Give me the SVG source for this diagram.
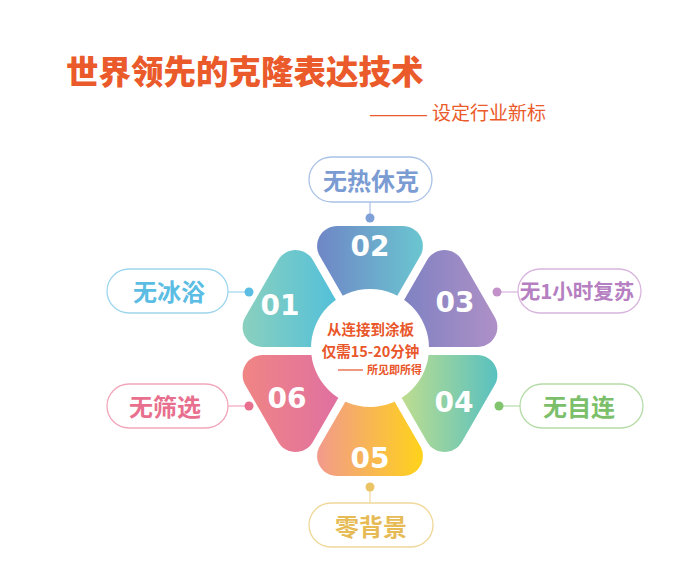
<svg xmlns="http://www.w3.org/2000/svg" width="700" height="564" viewBox="0 0 700 564">
<style>
.cjk{font-family:"Noto Sans CJK SC","Noto Sans",sans-serif}
.title{font-size:32.5px;font-weight:900;fill:#ea5a2a}
.sub{font-size:19px;font-weight:400;fill:#ea5a2a}
.ctr{font-size:14.5px;font-weight:700;fill:#e8562a;text-anchor:middle}
.num{font-family:"DejaVu Sans",sans-serif;font-weight:700;font-size:28px;fill:#fff;text-anchor:middle}
.pill{fill:#fff;stroke-width:1.3}
.lbl{font-size:24px;font-weight:700;text-anchor:middle}
.small{font-size:20.5px}
.conn{stroke-width:1.2;fill:none}
</style>
<defs>
<linearGradient id="g1" x1="0" y1="0" x2="1" y2="0"><stop offset="0" stop-color="#8ad0be"/><stop offset="1" stop-color="#4cbedd"/></linearGradient>
<linearGradient id="g2" x1="0" y1="0" x2="1" y2="0"><stop offset="0" stop-color="#6f86c6"/><stop offset="1" stop-color="#6ac6d0"/></linearGradient>
<linearGradient id="g3" x1="0" y1="0" x2="1" y2="0"><stop offset="0" stop-color="#7a80c2"/><stop offset="1" stop-color="#ae90c6"/></linearGradient>
<linearGradient id="g4" x1="0" y1="0" x2="1" y2="0"><stop offset="0" stop-color="#c8e08a"/><stop offset="1" stop-color="#58c1c0"/></linearGradient>
<linearGradient id="g5" x1="0" y1="0" x2="1" y2="0"><stop offset="0" stop-color="#f29a8c"/><stop offset="1" stop-color="#fed31a"/></linearGradient>
<linearGradient id="g6" x1="0" y1="0" x2="1" y2="0"><stop offset="0" stop-color="#f08584"/><stop offset="1" stop-color="#de6ea4"/></linearGradient>
</defs>
<rect width="700" height="564" fill="#fff"/>

<g id="title">
<text class="cjk title" x="66" y="84">世界领先的克隆表达技术</text>
<text class="cjk sub" x="370" y="120"><tspan font-family="Liberation Sans,sans-serif">———</tspan><tspan x="432">设定行业新标</tspan></text>
</g>

<g id="connectors">
<line class="conn" stroke="#a9c2e6" x1="370" y1="202" x2="370" y2="218"/>
<circle cx="370" cy="218" r="4.5" fill="#7ea0d6"/>
<line class="conn" stroke="#9fd6ee" x1="228" y1="292" x2="249" y2="292"/>
<circle cx="249" cy="292" r="4.5" fill="#5bbde3"/>
<line class="conn" stroke="#d8b5de" x1="497" y1="292" x2="518" y2="292"/>
<circle cx="497" cy="292" r="4.5" fill="#c391c9"/>
<line class="conn" stroke="#b5dca8" x1="499" y1="406" x2="520" y2="406"/>
<circle cx="499" cy="406" r="4.5" fill="#80c46e"/>
<line class="conn" stroke="#f0d89a" x1="370" y1="487" x2="370" y2="503"/>
<circle cx="370" cy="487" r="4.5" fill="#ebc465"/>
<line class="conn" stroke="#f2a6bb" x1="228" y1="406" x2="249" y2="406"/>
<circle cx="249" cy="406" r="4.5" fill="#e8708e"/>
</g>

<g id="p01">
<path fill="url(#g1)" d="M245.29,317 L278.20,260 A20,20 0 0 1 312.84,260 L345.75,317 A20,20 0 0 1 328.43,347 L262.61,347 A20,20 0 0 1 245.29,317 Z"/>
<text class="num" x="280" y="315">01</text>
</g>
<g id="p02">
<path fill="url(#g2)" d="M337.09,226 L402.91,226 A20,20 0 0 1 420.23,256 L387.32,313 A20,20 0 0 1 352.68,313 L319.77,256 A20,20 0 0 1 337.09,226 Z"/>
<text class="num" x="370" y="256">02</text>
</g>
<g id="p03">
<path fill="url(#g3)" d="M461.80,260 L494.71,317 A20,20 0 0 1 477.39,347 L411.57,347 A20,20 0 0 1 394.25,317 L427.16,260 A20,20 0 0 1 461.80,260 Z"/>
<text class="num" x="455" y="312">03</text>
</g>
<g id="p04">
<path fill="url(#g4)" d="M494.71,385 L461.80,442 A20,20 0 0 1 427.16,442 L394.25,385 A20,20 0 0 1 411.57,355 L477.39,355 A20,20 0 0 1 494.71,385 Z"/>
<text class="num" x="454" y="412">04</text>
</g>
<g id="p05">
<path fill="url(#g5)" d="M402.91,476 L337.09,476 A20,20 0 0 1 319.77,446 L352.68,389 A20,20 0 0 1 387.32,389 L420.23,446 A20,20 0 0 1 402.91,476 Z"/>
<text class="num" x="370" y="468">05</text>
</g>
<g id="p06">
<path fill="url(#g6)" d="M278.20,442 L245.29,385 A20,20 0 0 1 262.61,355 L328.43,355 A20,20 0 0 1 345.75,385 L312.84,442 A20,20 0 0 1 278.20,442 Z"/>
<text class="num" x="287" y="408">06</text>
</g>

<g id="center">
<circle cx="370" cy="348" r="59" fill="#fff"/>
<text class="cjk ctr" x="370.5" y="335">从连接到涂板</text>
<text class="cjk ctr" x="370.5" y="357">仅需15-20分钟</text>
<line x1="338" y1="370" x2="363" y2="370" stroke="#e8562a" stroke-width="1.2"/>
<text class="cjk" x="367" y="374" font-size="11" font-weight="700" fill="#e8562a">所见即所得</text>
</g>

<g id="l02">
<rect class="pill" x="309" y="157" width="123" height="45" rx="22.5" stroke="#a9c2e6"/>
<text class="cjk lbl" x="371" y="190" fill="#7b9bd3">无热休克</text>
</g>
<g id="l01">
<rect class="pill" x="107" y="269" width="121" height="44" rx="22" stroke="#9fd6ee"/>
<text class="cjk lbl" x="169" y="301" fill="#5bbde3">无冰浴</text>
</g>
<g id="l03">
<rect class="pill" x="518" y="269" width="123" height="44" rx="22" stroke="#d8b5de"/>
<text class="cjk lbl small" x="577" y="299" fill="#b57fc1">无1小时复苏</text>
</g>
<g id="l04">
<rect class="pill" x="520" y="384" width="123" height="44" rx="22" stroke="#b5dca8"/>
<text class="cjk lbl" x="579" y="416" fill="#7cbf6a">无自连</text>
</g>
<g id="l05">
<rect class="pill" x="309" y="503" width="124" height="44" rx="22" stroke="#f0d89a"/>
<text class="cjk lbl" x="371" y="536" fill="#e6bb55">零背景</text>
</g>
<g id="l06">
<rect class="pill" x="107" y="384" width="121" height="44" rx="22" stroke="#f2a6bb"/>
<text class="cjk lbl" x="165" y="416" fill="#e8708e">无筛选</text>
</g>
</svg>
